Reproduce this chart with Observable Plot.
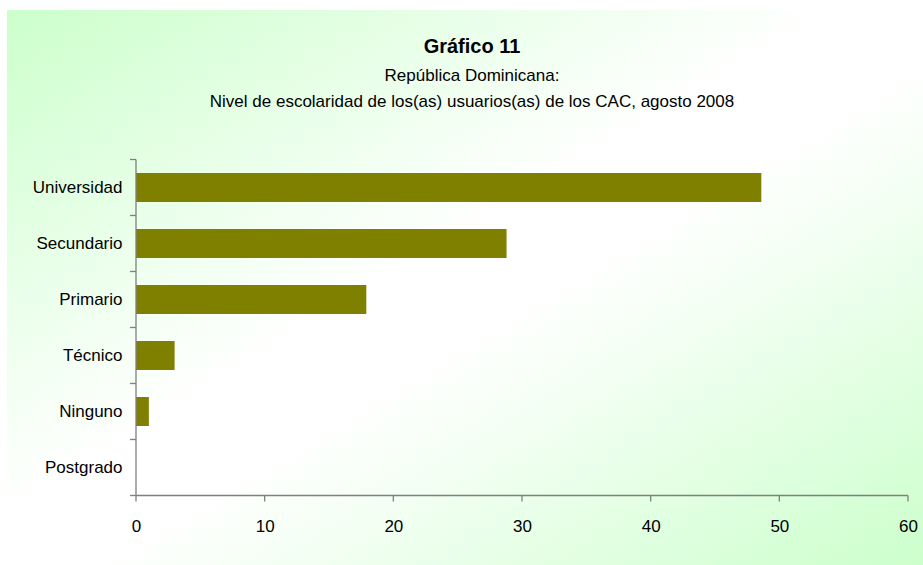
<!DOCTYPE html>
<html>
<head>
<meta charset="utf-8">
<script src="https://cdn.jsdelivr.net/npm/d3@7"></script>
<script src="https://cdn.jsdelivr.net/npm/@observablehq/plot@0.6"></script>
<style>
  html, body { margin: 0; padding: 0; background: #ffffff; }
  #panel {
    position: absolute; left: 7px; top: 10px; width: 916px; height: 555px;
    background: linear-gradient(to bottom right, #ccffcc 0%, #ffffff 45%, #ffffff 55%, #ccffcc 100%);
    font-family: "Liberation Sans", Arial, sans-serif; color: #000;
  }
  #head { height: 120px; text-align: center; padding-left: 14px; }
  #title { padding-top: 24px; font-size: 20px; font-weight: bold; line-height: 24px; font-family: "Liberation Sans Narrow", "Liberation Sans", sans-serif; }
  .sub { font-size: 17px; line-height: 26px; }
  #chart svg { display: block; background: transparent; }
</style>
</head>
<body>
<div id="panel">
  <div id="head">
    <div id="title">Gráfico 11</div>
    <div class="sub" style="margin-top:5px">República Dominicana:</div>
    <div class="sub">Nivel de escolaridad de los(as) usuarios(as) de los CAC, agosto 2008</div>
  </div>
  <div id="chart"></div>
</div>
<script>
const categories = ["Universidad", "Secundario", "Primario", "Técnico", "Ninguno", "Postgrado"];
const values = [48.6, 28.8, 17.9, 3.0, 1.0, 0];
const xTicks = [0, 10, 20, 30, 40, 50, 60];

const data = categories.map((c, i) => ({cat: c, val: values[i]}));
const axisColor = "#7f7f7f";

// Axis lines and tick marks at band boundaries, drawn from the plot's scales
function axesFrame(index, scales, values, dimensions) {
  const y = scales.y, x = scales.x;
  const bw = y.bandwidth();
  const step = y.step ? y.step() : bw;
  const gap = (step - bw) / 2;
  const g = d3.create("svg:g").attr("stroke", axisColor).attr("stroke-width", 1.3);
  const x0 = x(0), x1 = x(60);
  const ys = categories.map(c => y(c) - gap);
  const yBottom = y(categories[categories.length - 1]) + bw + gap;
  ys.push(yBottom);
  g.append("line").attr("x1", x0).attr("x2", x0).attr("y1", ys[0]).attr("y2", yBottom);
  g.append("line").attr("x1", x0).attr("x2", x1).attr("y1", yBottom).attr("y2", yBottom);
  for (const yy of ys) {
    g.append("line").attr("x1", x0 - 6).attr("x2", x0).attr("y1", yy).attr("y2", yy);
  }
  for (const t of xTicks) {
    g.append("line").attr("x1", x(t)).attr("x2", x(t)).attr("y1", yBottom).attr("y2", yBottom + 6);
  }
  return g.node();
}

const chart = Plot.plot({
  width: 916,
  height: 435,
  marginLeft: 129,
  marginRight: 15,
  marginTop: 27,
  marginBottom: 67,
  style: {fontFamily: "'Liberation Sans', Arial, sans-serif", fontSize: "17px", background: "transparent", color: "#000"},
  x: {domain: [0, 60], ticks: xTicks, label: null, tickSize: 0, tickPadding: 21, tickFormat: d => d},
  y: {domain: categories, paddingInner: 0.49, paddingOuter: 0.245, label: null, tickSize: 0, tickPadding: 14},
  marks: [
    Plot.barX(data, {x: "val", y: "cat", fill: "#808000"}),
    axesFrame
  ]
});
document.getElementById("chart").appendChild(chart);
</script>
</body>
</html>
